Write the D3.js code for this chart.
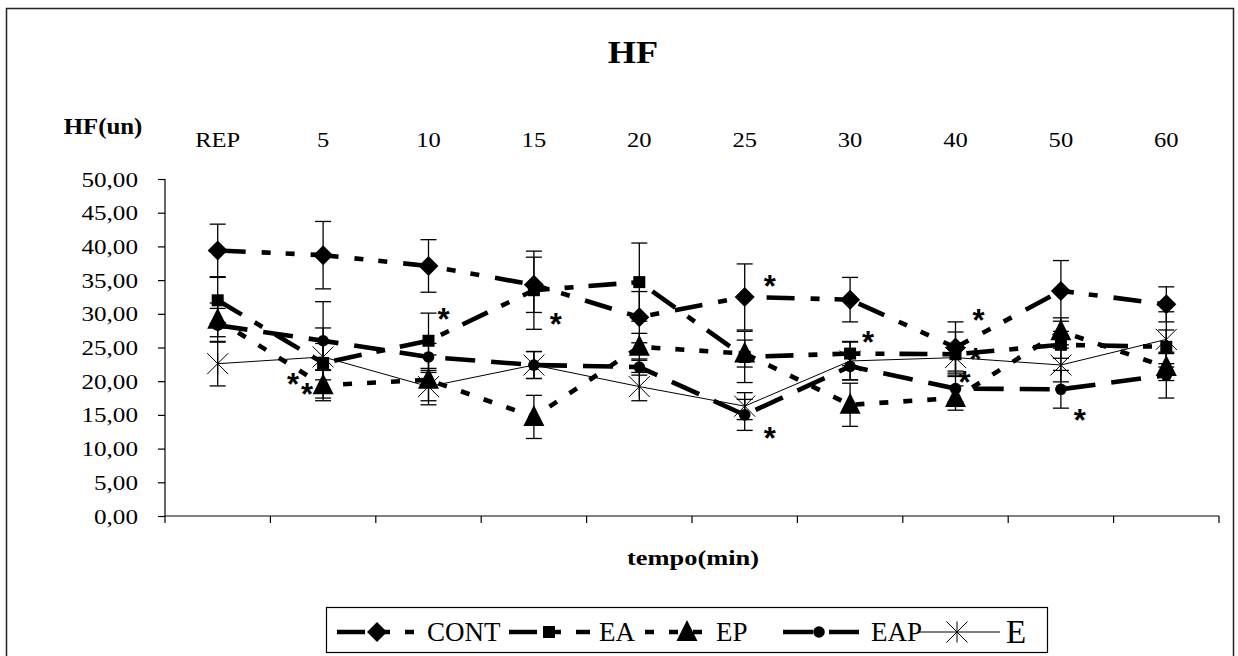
<!DOCTYPE html>
<html>
<head>
<meta charset="utf-8">
<script src="https://cdn.jsdelivr.net/npm/d3@7/dist/d3.min.js"></script>
<style>
  html, body { margin: 0; padding: 0; background: #fff; }
  svg { display: block; }
</style>
</head>
<body>
<svg id="chart" width="1238" height="656"></svg>
<script>
// HF (un) over time, five groups, mean ± SD
const categories = ["REP", "5", "10", "15", "20", "25", "30", "40", "50", "60"];
const yTicks = [0, 5, 10, 15, 20, 25, 30, 35, 40, 45, 50];

const seriesNames = ["CONT", "EA", "EP", "EAP", "E"];
const CONT = [39.4, 38.7, 37.1, 34.3, 29.5, 32.5, 32.1, 25.0, 33.4, 31.4];
const EA   = [32.0, 22.7, 26.0, 33.5, 34.7, 23.6, 24.1, 24.0, 25.4, 25.1];
const EP   = [29.1, 19.4, 20.2, 14.7, 25.1, 24.1, 16.5, 17.5, 27.4, 22.1];
const EAP  = [28.3, 26.0, 23.6, 22.4, 22.1, 15.0, 22.2, 18.9, 18.8, 20.9];
const E    = [22.6, 23.6, 19.2, 22.4, 19.2, 16.3, 23.0, 23.5, 22.4, 26.2];

const CONT_sd = [3.9, 5.0, 3.9, 4.1, 3.8, 4.9, 3.3, 3.8, 4.5, 2.6];
const EA_sd   = [3.4, 5.2, 4.1, 5.8, 5.8, 3.8, 1.8, 3.3, 2.0, 2.5];
const EP_sd   = [2.5, 2.3, 3.7, 3.2, 2.0, 2.0, 3.2, 1.8, 2.0, 2.0];
const EAP_sd  = [2.5, 5.8, 2.0, 2.0, 1.2, 2.3, 2.0, 2.0, 2.8, 3.4];
const E_sd    = [3.3, 2.0, 2.1, 2.0, 2.1, 2.0, 2.8, 2.0, 2.5, 4.1];

// significance marks (*): category and value level
const sigCats   = ["5", "5", "10", "15", "25", "25", "30", "40", "40", "40", "50"];
const sigValues = [20.4, 18.8, 30.0, 29.3, 34.8, 12.3, 26.6, 29.8, 24.0, 20.6, 15.0];

// ---------------------------------------------------------------------------
const SERIF = "'Liberation Serif', 'Times New Roman', 'DejaVu Serif', serif";
const svg = d3.select("#chart");
const SX = 1.17; // horizontal stretch of the lettering

function label(g, x, y, str, opts) {
  const o = Object.assign({ size: 22, weight: "normal", anchor: "middle", sx: SX }, opts || {});
  return g.append("g")
    .attr("transform", `translate(${x},${y}) scale(${o.sx},1)`)
    .append("text")
    .attr("font-family", SERIF)
    .attr("text-anchor", o.anchor)
    .attr("font-size", o.size)
    .attr("font-weight", o.weight)
    .attr("fill", "#000")
    .text(str);
}

// outer frame
svg.append("rect")
  .attr("x", 6.5).attr("y", 8.5).attr("width", 1227).attr("height", 660)
  .attr("fill", "none").attr("stroke", "#222").attr("stroke-width", 1.5);

const plot = { left: 165, right: 1219, top: 179, bottom: 516 };

const x = d3.scaleBand().domain(categories).range([plot.left, plot.right]);
const cx = c => x(c) + x.bandwidth() / 2;
const y = d3.scaleLinear().domain([0, 50]).range([plot.bottom, plot.top]);

const locale = d3.formatLocale({ decimal: ",", thousands: ".", grouping: [3], currency: ["", ""] });
const fmt = locale.format(".2f");

// title and axis titles
label(svg, 633, 63, "HF", { size: 31, weight: "bold" });
label(svg, 103, 134, "HF(un)", { size: 23, weight: "bold", sx: 1.08 });
label(svg, 693, 565, "tempo(min)", { size: 22, weight: "bold", sx: 1.2 });

// category labels along the top
categories.forEach(c => label(svg, cx(c), 147, c, { size: 21 }));

// y axis
const yAxis = svg.append("g")
  .attr("transform", `translate(${plot.left},0)`)
  .call(d3.axisLeft(y).tickValues(yTicks).tickSize(7).tickFormat(() => ""));
yAxis.select(".domain").attr("stroke", "#000").attr("stroke-width", 1.2).attr("d", `M0,${plot.top}V${plot.bottom}`);
yAxis.selectAll(".tick line").attr("stroke", "#000").attr("stroke-width", 1.2);
yTicks.forEach(v => label(svg, 138, y(v) + 7.5, fmt(v), { size: 21.5, anchor: "end" }));

// x axis: line with ticks at category boundaries
const xAxisG = svg.append("g");
xAxisG.append("line")
  .attr("x1", plot.left).attr("x2", plot.right)
  .attr("y1", plot.bottom).attr("y2", plot.bottom)
  .attr("stroke", "#000").attr("stroke-width", 1.2);
const bounds = categories.map(c => x(c)).concat([plot.right]);
xAxisG.selectAll("line.tk").data(bounds).join("line")
  .attr("class", "tk")
  .attr("x1", d => d).attr("x2", d => d)
  .attr("y1", plot.bottom).attr("y2", plot.bottom + 7)
  .attr("stroke", "#000").attr("stroke-width", 1.2);

// series styling
const styles = {
  CONT: { values: CONT, sd: CONT_sd, dash: "28,16,9,15,9,16", width: 4.6, marker: "diamond" },
  EA:   { values: EA,   sd: EA_sd,   dash: "28,15,9,15",       width: 4.6, marker: "square" },
  EP:   { values: EP,   sd: EP_sd,   dash: "9,15",             width: 4.6, marker: "triangle" },
  EAP:  { values: EAP,  sd: EAP_sd,  dash: "30,16",            width: 4.6, marker: "circle" },
  E:    { values: E,    sd: E_sd,    dash: null,               width: 1,   marker: "star" }
};

function drawMarker(g, kind, px, py) {
  if (kind === "diamond") {
    g.append("path").attr("d", `M${px},${py - 10}L${px + 10},${py}L${px},${py + 10}L${px - 10},${py}Z`).attr("fill", "#000");
  } else if (kind === "square") {
    g.append("rect").attr("x", px - 6).attr("y", py - 6).attr("width", 12).attr("height", 12).attr("fill", "#000");
  } else if (kind === "triangle") {
    g.append("path").attr("d", `M${px},${py - 12}L${px + 10.5},${py + 9}L${px - 10.5},${py + 9}Z`).attr("fill", "#000");
  } else if (kind === "circle") {
    g.append("circle").attr("cx", px).attr("cy", py).attr("r", 5.8).attr("fill", "#000");
  } else if (kind === "star") {
    const r = 10.5;
    g.append("path")
      .attr("d", `M${px - r},${py - r}L${px + r},${py + r}M${px - r},${py + r}L${px + r},${py - r}M${px},${py - r}L${px},${py + r}`)
      .attr("stroke", "#000").attr("stroke-width", 1).attr("fill", "none");
  }
}

const lineGen = d3.line().x(d => cx(d.c)).y(d => y(d.v));

seriesNames.forEach(name => {
  const s = styles[name];
  const pts = categories.map((c, i) => ({ c, v: s.values[i], sd: s.sd[i] }));
  const g = svg.append("g").attr("class", "series-" + name);

  // error bars
  const eb = g.append("g");
  pts.forEach(p => {
    const px = cx(p.c), y0 = y(p.v + p.sd), y1 = y(p.v - p.sd);
    eb.append("line").attr("x1", px).attr("x2", px).attr("y1", y0).attr("y2", y1)
      .attr("stroke", "#000").attr("stroke-width", 1.3);
    [y0, y1].forEach(yy => eb.append("line")
      .attr("x1", px - 8).attr("x2", px + 8).attr("y1", yy).attr("y2", yy)
      .attr("stroke", "#000").attr("stroke-width", 1.3));
  });

  // connecting line
  g.append("path").datum(pts).attr("d", lineGen)
    .attr("fill", "none").attr("stroke", "#000")
    .attr("stroke-width", s.width)
    .attr("stroke-dasharray", s.dash);

  // markers
  pts.forEach(p => drawMarker(g, s.marker, cx(p.c), y(p.v)));
});

// significance asterisks
const sigOffsets = [-30, -16, 15, 22, 25, 25, 18, 23, 20, 9, 19];
sigCats.forEach((c, i) => {
  svg.append("text")
    .attr("x", cx(c) + sigOffsets[i]).attr("y", y(sigValues[i]) + 16)
    .attr("text-anchor", "middle")
    .attr("font-family", "'Liberation Sans', Arial, sans-serif")
    .attr("font-weight", "bold")
    .attr("font-size", 31)
    .attr("fill", "#000")
    .text("*");
});

// legend
const lg = svg.append("g");
lg.append("rect").attr("x", 326.5).attr("y", 607.5).attr("width", 721).attr("height", 45)
  .attr("fill", "#fff").attr("stroke", "#000").attr("stroke-width", 1.2);
const ly = 632;
const legendItems = [
  { name: "CONT", x0: 337, x1: 415, tx: 427, size: 27 },
  { name: "EA",   x0: 509, x1: 590, tx: 599, size: 27 },
  { name: "EP",   x0: 645, x1: 712, tx: 716, size: 27 },
  { name: "EAP",  x0: 783, x1: 860, tx: 871, size: 27 },
  { name: "E",    x0: 918, x1: 1000, tx: 1006, size: 33 }
];
const legendMarkX = [377, 549, 687, 819, 957];
legendItems.forEach((it, i) => {
  const s = styles[it.name];
  lg.append("line").attr("x1", it.x0).attr("x2", it.x1).attr("y1", ly).attr("y2", ly)
    .attr("stroke", "#000").attr("stroke-width", s.width)
    .attr("stroke-dasharray", s.dash);
  drawMarker(lg, s.marker, legendMarkX[i], ly);
});
legendItems.forEach(it => {
  lg.append("text").attr("x", it.tx).attr("y", ly + (it.size === 33 ? 11 : 9))
    .attr("font-family", SERIF).attr("fill", "#000")
    .attr("font-size", it.size).text(it.name);
});
</script>
</body>
</html>
